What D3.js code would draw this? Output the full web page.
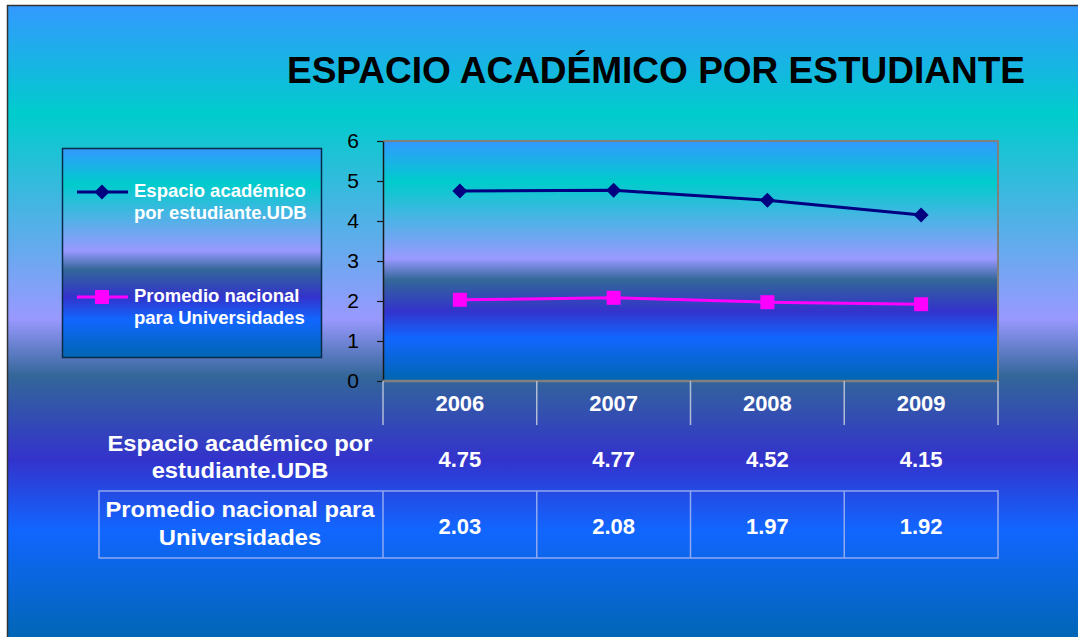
<!DOCTYPE html>
<html>
<head>
<meta charset="utf-8">
<script src="https://cdnjs.cloudflare.com/ajax/libs/d3/7.8.5/d3.min.js"></script>
<style>
  html, body { margin: 0; padding: 0; background: #fff; }
  svg text { font-family: "Liberation Sans", Arial, sans-serif; }
</style>
</head>
<body>
<svg id="chart" width="1078" height="637"></svg>
<script>
// datos del gráfico
const years = ['2006', '2007', '2008', '2009']
const espacioUDB = [4.75, 4.77, 4.52, 4.15]
const promedioNacional = [2.03, 2.08, 1.97, 1.92]
const yTicks = [0, 1, 2, 3, 4, 5, 6]
const legendLines = [['Espacio académico', 'por estudiante.UDB'], ['Promedio nacional', 'para Universidades']]
const tableLines = [['Espacio académico por', 'estudiante.UDB'], ['Promedio nacional para', 'Universidades']]
const title = 'ESPACIO ACADÉMICO POR ESTUDIANTE'

const series = [
  { values: espacioUDB, color: '#000080', marker: 'diamond' },
  { values: promedioNacional, color: '#FF00FF', marker: 'square' }
]

const svg = d3.select('#chart')
const defs = svg.append('defs')

// degradado del fondo (se repite en la diapositiva, la leyenda y el área de trazado)
const stops = [
  [0, '#3399FF'], [0.17, '#00CCCC'], [0.49, '#9999FF'], [0.58, '#336699'],
  [0.71, '#3333CC'], [0.82, '#1166FF'], [1, '#0066B0']
]
const grad = defs.append('linearGradient')
  .attr('id', 'ocean')
  .attr('x1', 0).attr('y1', 0).attr('x2', 0).attr('y2', 1)
grad.selectAll('stop')
  .data(stops)
  .enter()
  .append('stop')
  .attr('offset', d => d[0])
  .attr('stop-color', d => d[1])

// diapositiva
svg.append('rect')
  .attr('x', 7).attr('y', 5)
  .attr('width', 1078).attr('height', 640)
  .attr('fill', 'url(#ocean)')
svg.append('path')
  .attr('d', 'M7.5,645 V5.5 H1078')
  .attr('fill', 'none')
  .attr('stroke', '#333')
  .attr('stroke-width', 1.5)

// título
svg.append('text')
  .attr('x', 287)
  .attr('y', 83)
  .attr('font-size', '37px')
  .attr('font-weight', '700')
  .attr('fill', '#000')
  .text(title)

const plot = { left: 383, right: 998, top: 141, bottom: 381 }

const x = d3.scaleBand()
  .domain(years)
  .range([plot.left, plot.right])
const y = d3.scaleLinear()
  .domain([0, 6])
  .range([plot.bottom, plot.top])

// área de trazado
svg.append('rect')
  .attr('x', plot.left).attr('y', plot.top)
  .attr('width', plot.right - plot.left)
  .attr('height', plot.bottom - plot.top)
  .attr('fill', 'url(#ocean)')
svg.append('path')
  .attr('d', `M${plot.left},${plot.top} H${plot.right} V${plot.bottom}`)
  .attr('fill', 'none')
  .attr('stroke', '#808080')
  .attr('stroke-width', 2)

// eje y
const yAxis = svg.append('g')
  .attr('transform', `translate(${plot.left},0)`)
  .call(d3.axisLeft(y).tickValues(yTicks).tickFormat(d3.format('d')).tickSize(6).tickSizeOuter(0).tickPadding(18))
yAxis.select('.domain').attr('stroke', '#1a1a1a').attr('stroke-width', 1.5)
yAxis.selectAll('.tick line').attr('stroke', '#1a1a1a').attr('stroke-width', 1.2)
yAxis.selectAll('.tick text')
  .attr('font-size', '21px')
  .attr('fill', '#000')

// eje x (línea gris)
svg.append('line')
  .attr('x1', plot.left).attr('x2', plot.right)
  .attr('y1', plot.bottom).attr('y2', plot.bottom)
  .attr('stroke', '#808080')
  .attr('stroke-width', 2.5)

// cabecera de categorías
const bounds = years.map(d => x(d)).concat([plot.right])
svg.append('g')
  .selectAll('line')
  .data(bounds)
  .enter()
  .append('line')
  .attr('x1', d => d).attr('x2', d => d)
  .attr('y1', plot.bottom).attr('y2', 425)
  .attr('stroke', '#B0BCD4')
  .attr('stroke-width', 1.5)

svg.append('g')
  .selectAll('text')
  .data(years)
  .enter()
  .append('text')
  .attr('x', d => x(d) + x.bandwidth() / 2)
  .attr('y', 411)
  .attr('text-anchor', 'middle')
  .attr('font-size', '22px')
  .attr('font-weight', '700')
  .attr('fill', '#fff')
  .text(d => d)

// líneas y marcadores
const line = d3.line()
  .x((d, i) => x(years[i]) + x.bandwidth() / 2)
  .y(d => y(d))

const markerPath = {
  diamond: 'M0,-7.5 L7.5,0 L0,7.5 L-7.5,0 Z',
  square: 'M-7,-7 H7 V7 H-7 Z'
}

series.forEach(s => {
  svg.append('path')
    .datum(s.values)
    .attr('d', line)
    .attr('fill', 'none')
    .attr('stroke', s.color)
    .attr('stroke-width', 3)
  svg.append('g')
    .selectAll('path')
    .data(s.values)
    .enter()
    .append('path')
    .attr('transform', (d, i) => `translate(${x(years[i]) + x.bandwidth() / 2},${y(d)})`)
    .attr('d', markerPath[s.marker])
    .attr('fill', s.color)
})

// leyenda
svg.append('rect')
  .attr('x', 62.5).attr('y', 148.5)
  .attr('width', 259).attr('height', 209)
  .attr('fill', 'url(#ocean)')
  .attr('stroke', '#0a2a4a')
  .attr('stroke-width', 1.5)

const legendY = [192, 297]
series.forEach((s, k) => {
  const g = svg.append('g').attr('transform', `translate(0,${legendY[k]})`)
  g.append('line')
    .attr('x1', 77).attr('x2', 128)
    .attr('stroke', s.color)
    .attr('stroke-width', 3)
  g.append('path')
    .attr('transform', 'translate(102,0)')
    .attr('d', markerPath[s.marker])
    .attr('fill', s.color)
  g.selectAll('text')
    .data(legendLines[k])
    .enter()
    .append('text')
    .attr('x', 134)
    .attr('y', (d, i) => 5 + i * 22)
    .attr('font-size', '18.5px')
    .attr('font-weight', '700')
    .attr('fill', '#fff')
    .text(d => d)
})

// tabla de datos
const rows = [
  { values: espacioUDB, labelY: [451, 478], valueY: 467 },
  { values: promedioNacional, labelY: [517, 545], valueY: 534 }
]

const row2 = { top: 491, bottom: 558, left: 99 }
svg.append('rect')
  .attr('x', row2.left).attr('y', row2.top)
  .attr('width', plot.right - row2.left)
  .attr('height', row2.bottom - row2.top)
  .attr('fill', 'none')
  .attr('stroke', '#8FA8F0')
  .attr('stroke-width', 1.5)
svg.append('g')
  .selectAll('line')
  .data(years.map(d => x(d)))
  .enter()
  .append('line')
  .attr('x1', d => d).attr('x2', d => d)
  .attr('y1', row2.top).attr('y2', row2.bottom)
  .attr('stroke', '#8FA8F0')
  .attr('stroke-width', 1.5)

rows.forEach((r, k) => {
  tableLines[k].forEach((t, i) => {
    svg.append('text')
      .attr('transform', `translate(240,${r.labelY[i]}) scale(1.08,1)`)
      .attr('text-anchor', 'middle')
      .attr('font-size', '22px')
      .attr('font-weight', '700')
      .attr('fill', '#fff')
      .text(t)
  })
  svg.append('g')
    .selectAll('text')
    .data(r.values)
    .enter()
    .append('text')
    .attr('x', (d, i) => x(years[i]) + x.bandwidth() / 2)
    .attr('y', r.valueY)
    .attr('text-anchor', 'middle')
    .attr('font-size', '22px')
    .attr('font-weight', '700')
    .attr('fill', '#fff')
    .text(d => d3.format('.2f')(d))
})
</script>
</body>
</html>
